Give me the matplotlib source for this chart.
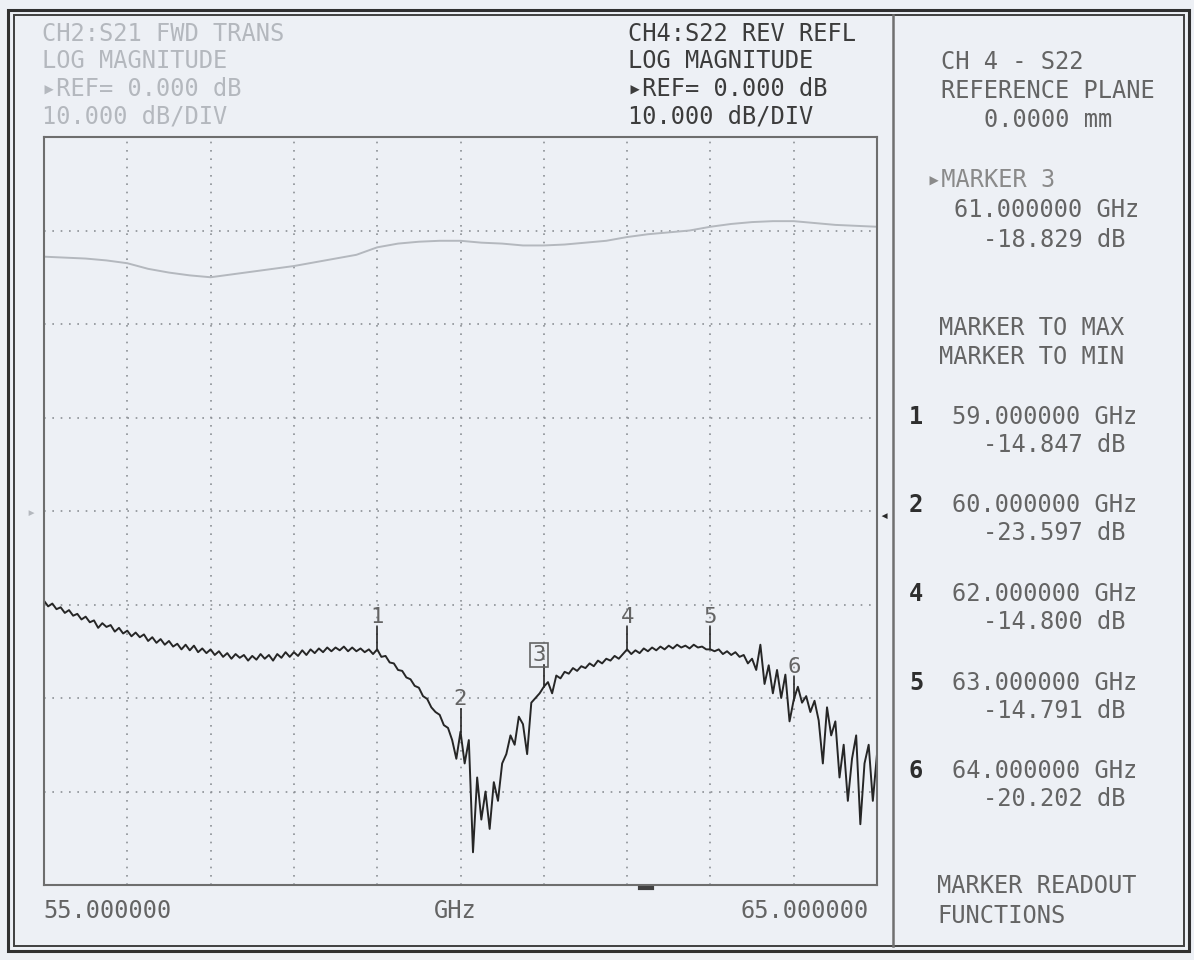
import numpy as np
import matplotlib
matplotlib.use("Agg")
from matplotlib import pyplot as plt
from matplotlib.patches import Rectangle

# S22 (CH4) sweep, 55-65 GHz, values in dB
freq_s22 = np.linspace(55.0, 65.0, 201)
s22_db = [
    -9.6, -10.2, -9.9, -10.5, -10.3, -10.9, -10.6, -11.2, -11.0, -11.6,
    -11.3, -11.9, -11.7, -12.5, -12.0, -12.4, -12.2, -12.9, -12.5, -13.1,
    -12.8, -13.4, -13.0, -13.5, -13.2, -13.9, -13.5, -14.1, -13.7, -14.3,
    -13.9, -14.5, -14.2, -14.8, -14.3, -14.9, -14.4, -15.1, -14.7, -15.2,
    -14.8, -15.4, -15.0, -15.6, -15.2, -15.8, -15.3, -15.7, -15.4, -16.0,
    -15.5, -15.9, -15.3, -15.8, -15.4, -16.0, -15.3, -15.7, -15.1, -15.6,
    -15.1, -15.5, -14.9, -15.4, -14.8, -15.2, -14.7, -15.1, -14.6, -15.0,
    -14.6, -14.9, -14.5, -15.0, -14.6, -15.0, -14.7, -15.1, -14.8, -15.3,
    -14.8, -15.6, -15.5, -16.2, -16.3, -17.0, -17.1, -17.8, -18.0, -18.7,
    -18.9, -19.8, -20.1, -21.0, -21.5, -21.8, -22.9, -23.2, -24.5, -26.5,
    -23.6, -27.0, -24.5, -36.5, -28.5, -33.0, -30.0, -34.0, -29.0, -31.0,
    -27.0, -26.0, -24.0, -25.0, -22.0, -22.8, -26.0, -20.5, -20.0, -19.5,
    -18.8, -18.3, -19.5, -17.6, -17.9, -17.2, -17.4, -16.8, -17.1, -16.6,
    -16.8, -16.3, -16.6, -16.0, -16.3, -15.8, -16.0, -15.5, -15.8, -15.3,
    -14.8, -15.3, -14.9, -15.2, -14.7, -15.0, -14.6, -14.9, -14.5, -14.8,
    -14.4, -14.7, -14.3, -14.6, -14.4, -14.7, -14.3, -14.6, -14.5, -14.8,
    -14.8, -15.0, -14.8, -15.3, -15.0, -15.4, -15.1, -15.6, -15.4, -16.3,
    -15.8, -17.0, -14.3, -18.5, -16.5, -19.5, -17.0, -20.0, -17.5, -22.5,
    -20.2, -18.8, -20.5, -19.8, -21.5, -20.3, -22.4, -27.0, -21.0, -24.0,
    -22.5, -28.5, -25.0, -31.0, -26.5, -24.0, -33.5, -27.0, -25.0, -31.0,
    -26.0,
]

# S21 (CH2) trace, faint on the screen
freq_s21 = np.linspace(55.0, 65.0, 41)
s21_db = [
    27.2, 27.1, 27.0, 26.8, 26.5, 25.9, 25.5, 25.2, 25.0, 25.3,
    25.6, 25.9, 26.2, 26.6, 27.0, 27.4, 28.2, 28.6, 28.8, 28.9,
    28.9, 28.7, 28.6, 28.4, 28.4, 28.5, 28.7, 28.9, 29.3, 29.6,
    29.8, 30.0, 30.4, 30.7, 30.9, 31.0, 31.0, 30.8, 30.6, 30.5,
    30.4,
]

marker_ids = ["1", "2", "3", "4", "5", "6"]
marker_ghz = [59.0, 60.0, 61.0, 62.0, 63.0, 64.0]
marker_db = [-14.847, -23.597, -18.829, -14.800, -14.791, -20.202]

W, H = 1194, 960
BG = "#edf0f5"
DARK = "#3c3c3c"
MID = "#646464"
FAINT = "#b4b8be"
FS = 17
MONO = ["DejaVu Sans Mono", "DejaVu Sans"]

fig = plt.figure(figsize=(W / 100, H / 100), dpi=100, facecolor=BG)

# full-figure overlay in pixel units for the frame and screen annotations
bg = fig.add_axes([0, 0, 1, 1], zorder=0)
bg.set_xlim(0, W)
bg.set_ylim(H, 0)
bg.axis("off")
bg.add_patch(Rectangle((8, 10), 1181, 941, fill=False, ec="#303030", lw=2.2))
bg.add_patch(Rectangle((14, 15), 1170, 931, fill=False, ec="#404040", lw=1.4))
bg.plot([893, 893], [15, 946], color="#707070", lw=1.8)


def t(x, y, s, color=MID, **kw):
    bg.text(x, y, s, color=color, fontsize=FS, family=MONO, va="center", ha="left", **kw)


# channel 2 header (faint)
for i, s in enumerate(["CH2:S21 FWD TRANS", "LOG MAGNITUDE", "\u25b8REF= 0.000 dB", "10.000 dB/DIV"]):
    t(42, 34 + 27.5 * i, s, color=FAINT)
# channel 4 header
for i, s in enumerate(["CH4:S22 REV REFL", "LOG MAGNITUDE", "\u25b8REF= 0.000 dB", "10.000 dB/DIV"]):
    t(628, 34 + 27.5 * i, s, color=DARK)

# right-hand softkey / marker panel
t(941, 62, "CH 4 - S22")
t(941, 91, "REFERENCE PLANE")
t(984, 120, "0.0000 mm")
t(927, 180, "\u25b8MARKER 3", color="#8a8a8a")
t(954, 210, "61.000000 GHz")
t(983, 240, "-18.829 dB")
t(939, 328, "MARKER TO MAX")
t(939, 357, "MARKER TO MIN")
rows = [i for i in range(len(marker_ids)) if marker_ids[i] != "3"]
for k, i in enumerate(rows):
    y0 = 417 + 88.5 * k
    t(909, y0, marker_ids[i], color="#2e2e2e", fontweight="bold")
    t(952, y0, f"{marker_ghz[i]:.6f} GHz")
    t(983, y0 + 28, f"{marker_db[i]:.3f} dB")
t(937, 886, "MARKER READOUT")
t(937, 916, "FUNCTIONS")

# start / stop annotation under the graticule
t(43, 911, "55.000000")
t(434, 911, "GHz")
t(740, 911, "65.000000")
bg.plot([640, 652], [888, 888], color="#404040", lw=3)
# reference position arrows
bg.text(36, 512, "\u25b8", color=FAINT, fontsize=11, family=MONO, ha="right", va="center")
bg.text(879, 515, "\u25c2", color="#2a2a2a", fontsize=11, family=MONO, ha="left", va="center")

# graticule
ax = fig.add_axes([44 / W, 1 - 885 / H, 833 / W, 748 / H], zorder=1)
ax.set_facecolor(BG)
ax.set_xlim(55, 65)
ax.set_ylim(-40, 40)
ax.set_xticks(np.arange(55, 66, 1))
ax.set_yticks(np.arange(-40, 41, 10))
ax.tick_params(length=0, labelbottom=False, labelleft=False)
ax.grid(True, color="#8c9096", linestyle=(0, (1, 4)), linewidth=1.2)
for sp in ax.spines.values():
    sp.set_color("#6e6e6e")
    sp.set_linewidth(1.5)

ax.plot(freq_s21, s21_db, color=FAINT, lw=1.4)
ax.plot(freq_s22, s22_db, color="#262626", lw=1.4)

# marker ticks and labels
for mid, f, d in zip(marker_ids, marker_ghz, marker_db):
    ax.plot([f, f], [d, d + 2.4], color="#262626", lw=1.2)
    if mid == "3":
        ax.text(f - 0.06, d + 3.4, mid, color=MID, fontsize=FS - 1, family=MONO,
                ha="center", va="center",
                bbox=dict(boxstyle="square,pad=0.1", fc="none", ec=MID, lw=1.2))
    else:
        ax.text(f, d + 3.5, mid, color=MID, fontsize=FS - 1, family=MONO,
                ha="center", va="center")

fig.savefig("out.png", dpi=100, facecolor=BG)
